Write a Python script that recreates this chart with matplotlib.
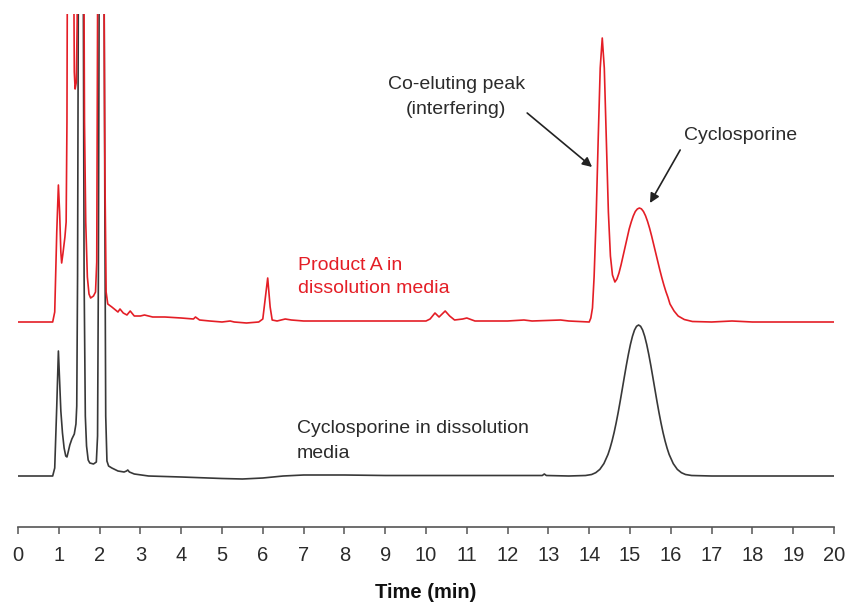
import matplotlib.pyplot as plt

plt.rcParams["font.family"] = ["Liberation Sans", "DejaVu Sans"]

# retention time (min) and detector signal for the cyclosporine standard
std_time = [0.0, 0.85, 0.90, 0.95, 0.99, 1.02, 1.05, 1.09, 1.13, 1.17, 1.20, 1.23,
            1.27, 1.32, 1.38, 1.42, 1.44, 1.46, 1.48, 1.55, 1.60, 1.62, 1.65, 1.68,
            1.72, 1.76, 1.85, 1.92, 1.95, 1.97, 1.99, 2.05, 2.11, 2.13, 2.15, 2.18,
            2.22, 2.30, 2.45, 2.60, 2.66, 2.69, 2.73, 2.85, 3.2, 4.0, 5.0, 5.5, 6.0,
            6.5, 7.0, 8.0, 9.0, 10.0, 11.0, 12.0, 12.85, 12.9, 12.95, 13.5,
            13.91, 14.06, 14.16, 14.26, 14.36, 14.46, 14.51, 14.56, 14.61, 14.66,
            14.71, 14.76, 14.81, 14.86, 14.91, 14.96, 15.01, 15.06, 15.11, 15.16,
            15.21, 15.26, 15.31, 15.36, 15.41, 15.46, 15.51, 15.56, 15.61, 15.66,
            15.71, 15.76, 15.81, 15.86, 15.91, 15.96, 16.06, 16.16, 16.26, 16.36,
            16.51, 17.0, 18.0, 19.0, 20.0]
std_signal = [0, 0, 8, 70, 125, 95, 65, 43, 28, 20, 19, 24,
              31, 37, 42, 52, 70, 200, 500, 1000, 500, 200, 60, 30,
              16, 13, 12, 14, 40, 200, 500, 1000, 500, 250, 60, 15,
              10, 8, 5, 4, 5, 6, 4, 2, 0, -1, -2.5, -3, -2,
              0, 1, 1, 0.5, 0.5, 0.5, 0.5, 0.5, 2, 0.5, 0,
              0.5, 1.5, 3.3, 6.6, 12.4, 21.5, 27.7, 35, 43.4, 53,
              63.5, 74.9, 86.8, 98.8, 110.6, 121.6, 131.5, 139.7, 145.9, 149.7,
              151, 149.7, 145.9, 139.7, 131.5, 121.6, 110.6, 98.8, 86.8, 74.9,
              63.5, 53, 43.4, 35, 27.7, 21.5, 12.4, 6.6, 3.3, 1.5,
              0.5, 0, 0, 0, 0]

# Product A sample, same run conditions
prod_time = [0.0, 0.85, 0.90, 0.95, 0.99, 1.02, 1.05, 1.07, 1.10, 1.15, 1.18, 1.20,
             1.22, 1.30, 1.36, 1.38, 1.40, 1.43, 1.45, 1.47, 1.54, 1.60, 1.63, 1.66,
             1.70, 1.74, 1.78, 1.85, 1.90, 1.93, 1.95, 1.98, 2.05, 2.10, 2.13, 2.16,
             2.20, 2.30, 2.45, 2.50, 2.58, 2.67, 2.75, 2.85, 3.0, 3.1, 3.3, 3.6, 4.0,
             4.3, 4.35, 4.45, 4.7, 5.0, 5.2, 5.3, 5.6, 5.9, 6.0, 6.05, 6.12, 6.18,
             6.23, 6.35, 6.55, 6.7, 7.0, 8.0, 9.0, 10.0, 10.1, 10.22, 10.32, 10.47,
             10.58, 10.7, 10.9, 11.0, 11.2, 12.0, 12.4, 12.6, 13.3, 13.5, 14.0,
             14.04, 14.08, 14.12, 14.17, 14.22, 14.27, 14.32, 14.37, 14.42, 14.47,
             14.52, 14.57, 14.63, 14.68, 14.73, 14.78, 14.83, 14.88, 14.93, 14.98,
             15.03, 15.08, 15.13, 15.18, 15.23, 15.28, 15.33, 15.38, 15.43, 15.48,
             15.53, 15.58, 15.63, 15.68, 15.73, 15.78, 15.83, 15.88, 15.93, 15.98,
             16.08, 16.18, 16.33, 16.53, 17.0, 17.5, 18.0, 20.0]
prod_signal = [0, 0, 10, 90, 137, 110, 70, 59, 68, 85, 100, 200,
               500, 1000, 400, 250, 233, 240, 300, 600, 1000, 500, 200, 100,
               45, 28, 24, 26, 30, 60, 300, 700, 1000, 400, 150, 30,
               18, 15, 10, 13, 9, 7, 11, 6, 6, 7, 5, 5, 4,
               3, 5, 2, 1, 0, 1, 0, -1, 0, 3, 20, 44, 15,
               2, 1, 3, 2, 1, 1, 1, 1, 3, 9, 5, 11,
               6, 2, 3, 4, 1, 1, 2, 1, 2, 1, 0,
               4, 14, 45, 104, 182, 254, 284, 254, 182, 110,
               66, 47, 40, 43, 49, 57, 66, 75, 84, 93,
               100, 106, 110.5, 113, 114, 113.1, 110.5, 106.3, 100.6, 93.8,
               86, 77.7, 69.1, 60.6, 52.2, 44.3, 37, 30.4, 24.7, 18,
               11, 6, 2.5, 0.5, 0, 1, 0, 0]

prod_offset = 154
red = "#e41e26"
dark = "#2b2b2b"

fig = plt.figure(figsize=(8.48, 6.02), dpi=100)
ax = fig.add_axes([18 / 848, 75 / 602, 816 / 848, 513 / 602])

ax.plot(std_time, std_signal, color="#383838", lw=1.2)
ax.plot(prod_time, [s + prod_offset for s in prod_signal], color=red, lw=1.2)

ax.set_xlim(0, 20)
ax.set_ylim(-51, 462)
ax.set_xticks(range(0, 21))
ax.set_yticks([])
for side in ["left", "right", "top"]:
    ax.spines[side].set_visible(False)
ax.spines["bottom"].set_color("#555555")
ax.spines["bottom"].set_linewidth(1.2)
ax.tick_params(axis="x", direction="out", length=5, width=1.1, color="#555555",
               labelsize=14.5, labelcolor=dark, pad=9)
ax.set_xlabel("Time (min)", fontsize=14.5, fontweight="bold", color="#111111",
              labelpad=13)

# peak labels and arrows
arrow = dict(arrowstyle="-|>", color="#222222", lw=1.2, mutation_scale=14,
             shrinkA=0, shrinkB=0)
ax.text(10.74, 379, "Co-eluting peak\n(interfering)", ha="center", va="center",
        fontsize=14, color=dark, linespacing=1.55)
ax.annotate("", xy=(14.07, 309), xytext=(12.48, 363), arrowprops=arrow)
ax.text(17.7, 341, "Cyclosporine", ha="center", va="center", fontsize=14, color=dark)
ax.annotate("", xy=(15.49, 273), xytext=(16.23, 326), arrowprops=arrow)

ax.text(6.86, 199, "Product A in\ndissolution media", ha="left", va="center",
        fontsize=14, color=red, linespacing=1.5)
ax.text(6.84, 35, "Cyclosporine in dissolution\nmedia", ha="left", va="center",
        fontsize=14, color=dark, linespacing=1.55)

fig.savefig("out.png", dpi=100)
